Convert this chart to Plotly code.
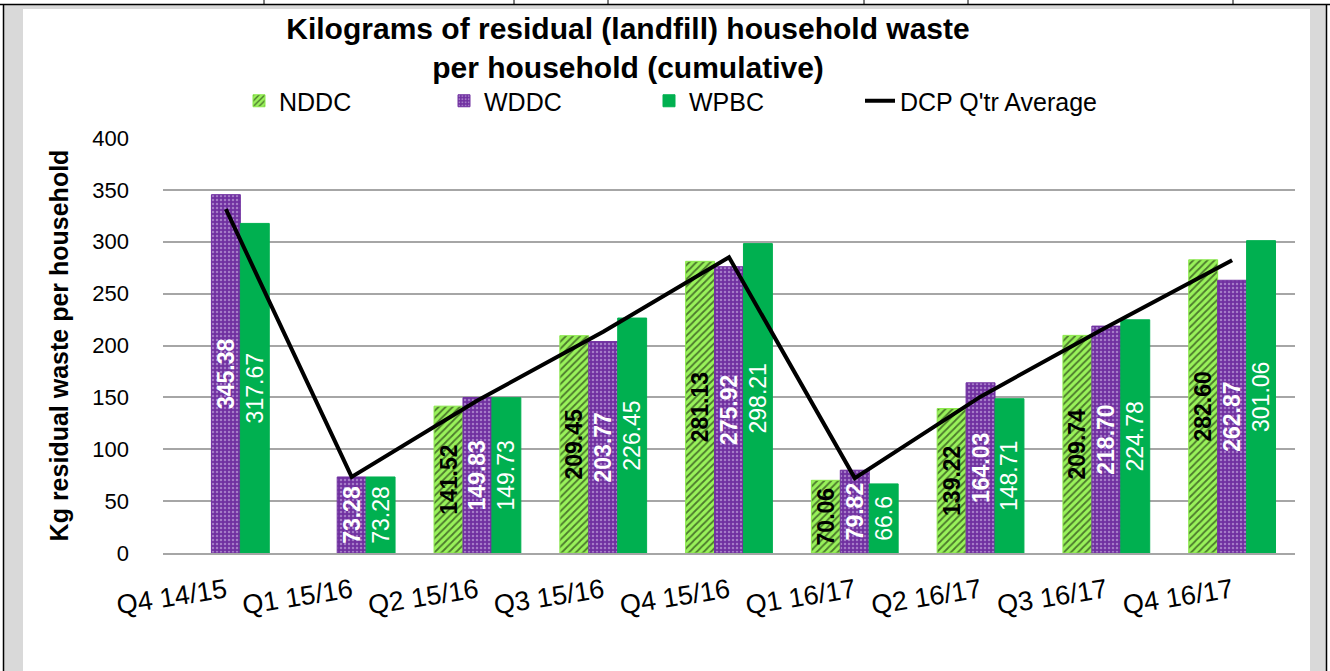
import plotly.graph_objects as go

categories = ["Q4 14/15", "Q1 15/16", "Q2 15/16", "Q3 15/16", "Q4 15/16",
              "Q1 16/17", "Q2 16/17", "Q3 16/17", "Q4 16/17"]
nddc = [None, None, 141.52, 209.45, 281.13, 70.06, 139.22, 209.74, 282.60]
nddc_labels = ["", "", "141.52", "209.45", "281.13", "70.06", "139.22", "209.74", "282.60"]
wddc = [345.38, 73.28, 149.83, 203.77, 275.92, 79.82, 164.03, 218.70, 262.87]
wddc_labels = ["345.38", "73.28", "149.83", "203.77", "275.92", "79.82", "164.03", "218.70", "262.87"]
wpbc = [317.67, 73.28, 149.73, 226.45, 298.21, 66.6, 148.71, 224.78, 301.06]
wpbc_labels = ["317.67", "73.28", "149.73", "226.45", "298.21", "66.6", "148.71", "224.78", "301.06"]
dcp_avg = [331.5, 73.3, 147.0, 213.2, 285.1, 72.2, 150.7, 217.7, 282.2]

W, H = 1330, 671
PL, PR, PT, PB = 163, 1295, 138, 553
FONT = "Arial, Liberation Sans, sans-serif"

def px(x):
    return (x - PL) / (PR - PL)

def py(y):
    return (PB - y) / (PB - PT)

fig = go.Figure()

fig.add_trace(go.Bar(
    name="NDDC", x=categories, y=nddc, text=nddc_labels,
    marker=dict(color="#99F25A", line=dict(color="#8BE84C", width=1),
                pattern=dict(shape="/", fgcolor="#000000", size=5, solidity=0.35)),
    textposition="inside", insidetextanchor="middle", textangle=-90,
    textfont=dict(family=FONT, size=23, color="black", weight="bold"),
))
fig.add_trace(go.Bar(
    name="WDDC", x=categories, y=wddc, text=wddc_labels,
    marker=dict(color="#7030A0", line=dict(color="#7030A0", width=1),
                pattern=dict(shape=".", fgcolor="#D9C6EE", size=4, solidity=0.3)),
    textposition="inside", insidetextanchor="middle", textangle=-90,
    textfont=dict(family=FONT, size=23, color="white", weight="bold"),
))
fig.add_trace(go.Bar(
    name="WPBC", x=categories, y=wpbc, text=wpbc_labels,
    marker=dict(color="#00B050", line=dict(color="#00B050", width=1)),
    textposition="inside", insidetextanchor="middle", textangle=-90,
    textfont=dict(family=FONT, size=23, color="white"),
))
fig.add_trace(go.Scatter(
    name="DCP Q'tr Average", x=categories, y=dcp_avg, mode="lines",
    line=dict(color="black", width=4), legend="legend2",
))

shapes = []
def rect(x0, y0, x1, y1, fill):
    shapes.append(dict(type="rect", xref="paper", yref="paper",
                       x0=px(x0), x1=px(x1), y0=py(y1), y1=py(y0),
                       fillcolor=fill, line=dict(width=0), layer="below"))
def lineseg(x0, y0, x1, y1, color="#000000", width=1.5):
    shapes.append(dict(type="line", xref="paper", yref="paper",
                       x0=px(x0), x1=px(x1), y0=py(y0), y1=py(y1),
                       line=dict(color=color, width=width), layer="below"))

# frame of the screenshot
rect(4, 5, 1326, 9, "#D9D9D9")
rect(4, 5, 23, 671, "#D9D9D9")
rect(1310, 5, 1326, 671, "#D9D9D9")
lineseg(0, 4.5, 1330, 4.5, "#000000", 1.5)
lineseg(3.5, 4, 3.5, 671, "#000000", 1.5)
lineseg(1326.5, 4, 1326.5, 671, "#000000", 1.5)
for xv in [264, 514, 608, 864, 968, 1233]:
    lineseg(xv, 0, xv, 4, "#000000", 1)

legend_font = dict(family=FONT, size=25, color="black")

fig.update_layout(
    width=W, height=H,
    margin=dict(l=PL, r=W - PR, t=PT, b=H - PB),
    paper_bgcolor="white", plot_bgcolor="white",
    barmode="group", bargap=0.31, bargroupgap=0,
    uniformtext=dict(minsize=23, mode="show"),
    font=dict(family=FONT, color="black"),
    title=dict(
        text="<b>Kilograms of residual (landfill) household waste<br>per household (cumulative)</b>",
        x=628 / W, xanchor="center", y=1 - 39 / H, yanchor="top",
        font=dict(family=FONT, size=30, color="black"),
    ),
    legend=dict(
        orientation="h", x=px(239), xanchor="left", y=py(101), yanchor="middle",
        font=legend_font, entrywidth=160, entrywidthmode="pixels",
        bgcolor="rgba(0,0,0,0)", traceorder="normal",
    ),
    legend2=dict(
        orientation="h", x=px(860), xanchor="left", y=py(101), yanchor="middle",
        font=legend_font, bgcolor="rgba(0,0,0,0)",
    ),
    xaxis=dict(
        showgrid=False, showline=True, linecolor="#A6A6A6", linewidth=2,
        tickangle=-9, tickfont=dict(family=FONT, size=27, color="black"),
        ticks="", ticklabelstandoff=10,
    ),
    yaxis=dict(
        range=[0, 400], dtick=50, showgrid=True, gridcolor="#A6A6A6", gridwidth=1.5,
        zeroline=False, showline=False,
        tickfont=dict(family=FONT, size=22, color="black"),
        ticks="", ticklabelstandoff=33,
        title=dict(text="<b>Kg residual waste per household</b>",
                   font=dict(family=FONT, size=25, color="black"), standoff=16),
    ),
    shapes=shapes,
)

fig.write_html("out.html", config={"displayModeBar": False},
               post_script="document.body.style.margin='0';")
